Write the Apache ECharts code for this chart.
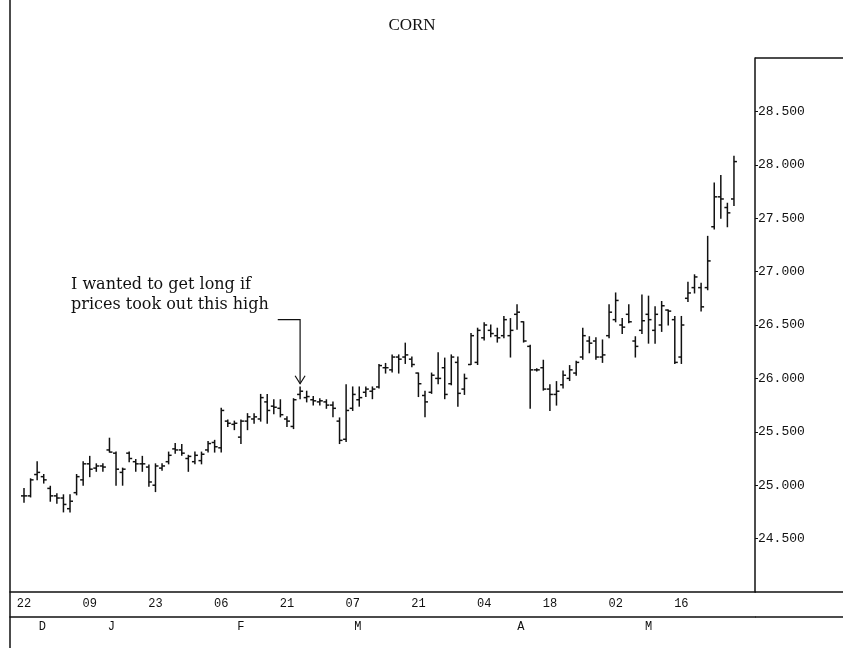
<!DOCTYPE html>
<html>
<head>
<meta charset="utf-8">
<title>CORN</title>
<script src="https://cdn.jsdelivr.net/npm/echarts@6/dist/echarts.min.js"></script>
<style>
    html, body {margin: 0; padding: 0; background: #fff;}
    #main {width: 843px; height: 648px;}
</style>
</head>
<body>
<div id="main"></div>
<script>
// daily bars (index 0 = Dec 22)
var opens  = [24.90, 24.90, 25.10, 25.08, 24.97, 24.90, 24.88, 24.78, 24.93, 25.05,
              25.20, 25.16, 25.18, 25.33, 25.30, 25.12, 25.30, 25.22, 25.20, 25.17,
              25.00, 25.16, 25.22, 25.34, 25.33, 25.25, 25.22, 25.23, 25.33, 25.40,
              25.35, 25.60, 25.57, 25.45, 25.60, 25.62, 25.62, 25.78, 25.74, 25.72,
              25.62, 25.55, 25.85, 25.82, 25.80, 25.78, 25.78, 25.75, 25.60, 25.43,
              25.72, 25.80, 25.87, 25.88, 25.92, 26.10, 26.08, 26.20, 26.20, 26.18,
              26.05, 25.84, 25.87, 26.00, 26.10, 25.95, 26.15, 25.90, 26.13, 26.15,
              26.38, 26.45, 26.40, 26.40, 26.40, 26.60, 26.53, 26.30, 26.08, 26.10,
              25.90, 25.85, 25.94, 26.00, 26.05, 26.20, 26.35, 26.35, 26.20, 26.40,
              26.55, 26.50, 26.60, 26.35, 26.45, 26.60, 26.45, 26.50, 26.64, 26.55,
              26.20, 26.75, 26.85, 26.85, 26.85, 27.42, 27.70, 27.60, 27.68];
var highs  = [24.97, 25.06, 25.22, 25.10, 24.99, 24.92, 24.91, 24.91, 25.10, 25.22,
              25.27, 25.20, 25.20, 25.44, 25.31, 25.16, 25.31, 25.24, 25.27, 25.19,
              25.20, 25.20, 25.31, 25.39, 25.38, 25.28, 25.31, 25.31, 25.41, 25.42,
              25.72, 25.61, 25.60, 25.61, 25.67, 25.67, 25.85, 25.85, 25.80, 25.80,
              25.64, 25.81, 25.92, 25.88, 25.83, 25.81, 25.80, 25.78, 25.63, 25.94,
              25.92, 25.92, 25.92, 25.92, 26.13, 26.14, 26.22, 26.22, 26.33, 26.20,
              26.05, 25.88, 26.05, 26.24, 26.19, 26.22, 26.20, 26.04, 26.42, 26.47,
              26.52, 26.50, 26.47, 26.58, 26.56, 26.69, 26.53, 26.31, 26.09, 26.17,
              25.94, 25.97, 26.07, 26.12, 26.16, 26.47, 26.39, 26.38, 26.36, 26.69,
              26.80, 26.56, 26.69, 26.39, 26.78, 26.77, 26.67, 26.72, 26.64, 26.58,
              26.58, 26.90, 26.97, 26.89, 27.33, 27.83, 27.90, 27.64, 28.08];
var lows   = [24.84, 24.89, 25.05, 25.02, 24.85, 24.83, 24.75, 24.75, 24.91, 25.00,
              25.08, 25.13, 25.13, 25.31, 25.00, 25.00, 25.22, 25.13, 25.13, 24.99,
              24.94, 25.14, 25.20, 25.30, 25.28, 25.13, 25.20, 25.20, 25.31, 25.31,
              25.31, 25.55, 25.52, 25.39, 25.52, 25.58, 25.60, 25.58, 25.67, 25.64,
              25.55, 25.53, 25.81, 25.78, 25.75, 25.75, 25.72, 25.64, 25.39, 25.41,
              25.70, 25.74, 25.83, 25.81, 25.91, 26.05, 26.06, 26.05, 26.14, 26.11,
              25.83, 25.64, 25.86, 25.95, 25.81, 25.94, 25.74, 25.85, 26.13, 26.13,
              26.36, 26.39, 26.34, 26.38, 26.20, 26.46, 26.34, 25.72, 26.07, 25.89,
              25.70, 25.75, 25.91, 25.98, 26.03, 26.18, 26.24, 26.18, 26.15, 26.38,
              26.53, 26.42, 26.52, 26.20, 26.42, 26.33, 26.33, 26.44, 26.50, 26.14,
              26.14, 26.72, 26.80, 26.63, 26.83, 27.40, 27.50, 27.42, 27.62];
var closes = [24.90, 25.05, 25.12, 25.05, 24.90, 24.88, 24.82, 24.85, 25.08, 25.20,
              25.15, 25.18, 25.17, 25.31, 25.15, 25.15, 25.25, 25.20, 25.20, 25.03,
              25.18, 25.18, 25.28, 25.33, 25.30, 25.27, 25.28, 25.29, 25.39, 25.36,
              25.70, 25.58, 25.58, 25.60, 25.64, 25.64, 25.82, 25.70, 25.73, 25.66,
              25.60, 25.80, 25.88, 25.83, 25.79, 25.79, 25.75, 25.72, 25.42, 25.70,
              25.85, 25.82, 25.90, 25.90, 26.12, 26.10, 26.20, 26.18, 26.22, 26.13,
              25.95, 25.78, 26.03, 26.00, 25.85, 26.20, 25.86, 26.00, 26.40, 26.45,
              26.50, 26.42, 26.38, 26.55, 26.45, 26.62, 26.35, 26.08, 26.08, 25.90,
              25.85, 25.88, 26.03, 26.08, 26.15, 26.40, 26.33, 26.20, 26.22, 26.62,
              26.73, 26.48, 26.53, 26.30, 26.54, 26.55, 26.60, 26.68, 26.63, 26.15,
              26.50, 26.80, 26.95, 26.67, 27.10, 27.70, 27.68, 27.55, 28.03];

// axis labels
var dayTicks   = [0, 10, 20, 30, 40, 50, 60, 70, 80, 90, 100];
var dayLabels  = ['22', '09', '23', '06', '21', '07', '21', '04', '18', '02', '16'];
var monthPos   = [2.8, 13.3, 33, 50.8, 75.6, 95];
var monthLabels = ['D', 'J', 'F', 'M', 'A', 'M'];
var priceTicks = [24.5, 25, 25.5, 26, 26.5, 27, 27.5, 28, 28.5];

// note and its arrow: [start x, level, bar index, tip price]
var noteText = 'I wanted to get long if\nprices took out this high';
var arrowPts = [[38.6, 26.55, 42, 25.95]];

var bars = [];
for (var i = 0; i < opens.length; i++) {
    bars.push([i, opens[i], highs[i], lows[i], closes[i]]);
}

var ink = '#111';

function renderBar(params, api) {
    var x = api.value(0);
    var o = api.coord([x, api.value(1)]);
    var h = api.coord([x, api.value(2)]);
    var l = api.coord([x, api.value(3)]);
    var c = api.coord([x, api.value(4)]);
    var st = {stroke: ink, lineWidth: 1.5};
    return {
        type: 'group',
        children: [
            {type: 'line', shape: {x1: h[0], y1: h[1] - 0.5, x2: l[0], y2: l[1] + 0.5}, style: st},
            {type: 'line', shape: {x1: o[0] - 3, y1: o[1], x2: o[0], y2: o[1]}, style: st},
            {type: 'line', shape: {x1: c[0], y1: c[1], x2: c[0] + 3, y2: c[1]}, style: st}
        ]
    };
}

function renderArrow(params, api) {
    var a = api.coord([api.value(0), api.value(1)]);
    var b = api.coord([api.value(2), api.value(1)]);
    var t = api.coord([api.value(2), api.value(3)]);
    var st = {stroke: ink, lineWidth: 1.2, fill: null};
    return {
        type: 'group',
        children: [
            {type: 'polyline', shape: {points: [a, b, t]}, style: st},
            {type: 'polyline', shape: {points: [[t[0] - 5, t[1] - 8], t, [t[0] + 5, t[1] - 8]]}, style: st}
        ]
    };
}

var xMin = -2.13, xMax = 111.2;

var option = {
    animation: false,
    backgroundColor: '#fff',
    title: {
        text: 'CORN',
        left: 407,
        top: 12,
        textAlign: 'center',
        textStyle: {fontFamily: 'Liberation Serif', fontSize: 17, fontWeight: 'normal', color: ink}
    },
    grid: {left: 10, right: 88, top: 58, bottom: 56, outerBoundsMode: 'none'},
    xAxis: [
        {
            type: 'value',
            min: xMin,
            max: xMax,
            position: 'bottom',
            axisLine: {show: true, onZero: false, lineStyle: {color: ink, width: 1.5}},
            axisTick: {show: false},
            splitLine: {show: false},
            axisLabel: {
                customValues: dayTicks,
                formatter: function (v) { return dayLabels[dayTicks.indexOf(v)]; },
                fontFamily: 'Liberation Mono',
                fontSize: 12,
                color: ink,
                margin: 6
            }
        },
        {
            type: 'value',
            min: xMin,
            max: xMax,
            position: 'bottom',
            offset: 25,
            axisLine: {show: true, onZero: false, lineStyle: {color: ink, width: 1.5}},
            axisTick: {show: false},
            splitLine: {show: false},
            axisLabel: {
                customValues: monthPos,
                formatter: function (v) { return monthLabels[monthPos.indexOf(v)]; },
                fontFamily: 'Liberation Mono',
                fontSize: 12,
                color: ink,
                margin: 4
            }
        }
    ],
    yAxis: {
        type: 'value',
        min: 24,
        max: 29,
        position: 'right',
        axisLine: {show: true, onZero: false, lineStyle: {color: ink, width: 1.5}},
        axisTick: {show: true, inside: false, length: 3, customValues: priceTicks, lineStyle: {color: ink}},
        splitLine: {show: false},
        axisLabel: {
            customValues: priceTicks,
            formatter: function (v) { return v.toFixed(3); },
            fontFamily: 'Liberation Mono',
            fontSize: 13,
            color: ink,
            margin: 3
        }
    },
    series: [
        {
            name: 'CORN',
            type: 'custom',
            renderItem: renderBar,
            encode: {x: 0, y: [1, 2, 3, 4]},
            data: bars
        },
        {
            name: 'note',
            type: 'custom',
            renderItem: renderArrow,
            encode: {x: [0, 2], y: [1, 3]},
            data: arrowPts,
            z: 3
        }
    ],
    graphic: [
        {type: 'line', shape: {x1: 10, y1: 0, x2: 10, y2: 648}, style: {stroke: ink, lineWidth: 1.5}},
        {type: 'line', shape: {x1: 755, y1: 58, x2: 843, y2: 58}, style: {stroke: ink, lineWidth: 1.5}},
        {type: 'line', shape: {x1: 755, y1: 592, x2: 843, y2: 592}, style: {stroke: ink, lineWidth: 1.5}},
        {type: 'line', shape: {x1: 755, y1: 617, x2: 843, y2: 617}, style: {stroke: ink, lineWidth: 1.5}},
        {
            type: 'text',
            left: 71,
            top: 275,
            style: {text: noteText, font: '16px "DejaVu Serif"', lineHeight: 20, fill: ink}
        }
    ]
};

var myChart = echarts.init(document.getElementById('main'));
myChart.setOption(option);
</script>
</body>
</html>
